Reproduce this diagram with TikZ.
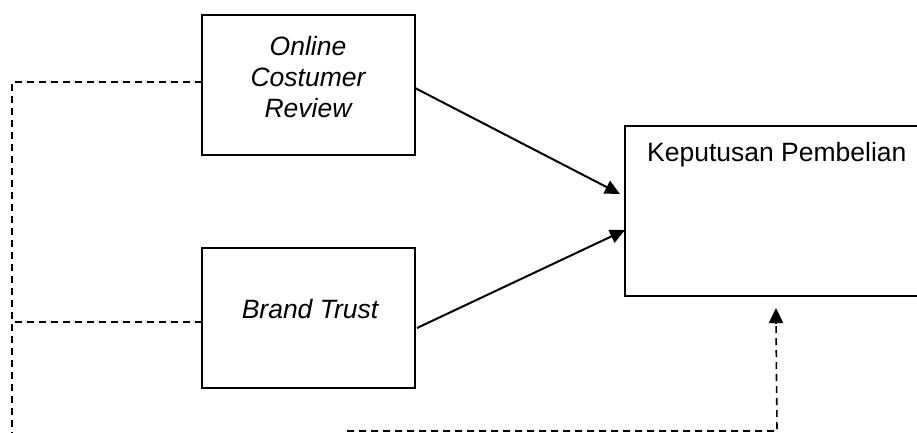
\documentclass[tikz,border=0pt]{standalone}
\usepackage{fontspec}
\setmainfont{Liberation Sans}
\usetikzlibrary{arrows.meta}
\begin{document}
\begin{tikzpicture}[x=1pt,y=-1pt,
  box/.style={draw,line width=2pt},
  lbl/.style={font=\fontsize{26.5}{31}\selectfont,inner sep=0pt,align=center},
  arr/.style={line width=2pt,-{Triangle[length=15pt,width=14pt]}},
  dsh/.style={line width=1.6pt,dash pattern=on 7pt off 5pt}]
\useasboundingbox (0,0) rectangle (917,433);
\begin{scope}
\clip (0,0) rectangle (917,433);
\draw[box] (202,15) rectangle (415,155);
\coordinate (ocrL) at (202,82);
\coordinate (ocrR) at (415,88);
\draw[box] (202,248) rectangle (415,388);
\coordinate (btL) at (202,322);
\coordinate (btR) at (417,328);
\draw[box] (625,126) rectangle (940,296);
\end{scope}
\node[lbl,font=\fontsize{26.5}{31}\selectfont\itshape] (ocr) at (308,77) {Online\\Costumer\\Review};
\node[lbl,font=\fontsize{26.5}{31}\selectfont\itshape] (bt) at (310,309) {Brand Trust};
\node[lbl,anchor=west] (kp) at (647,155) {Keputusan Pembelian};
\coordinate (kpA) at (620,194);
\coordinate (kpB) at (625,230);
\coordinate (kpC) at (776,308);
\draw[arr] (ocrR) -- (kpA);
\draw[arr] (btR) -- (kpB);
\coordinate (c1) at (12,82);
\coordinate (c2) at (12,322);
\coordinate (c3) at (12,433);
\coordinate (c4) at (347,431);
\coordinate (c5) at (777,431);
\draw[dsh] (ocrL) -- (c1) -- (c3);
\draw[dsh] (btL) -- (c2);
\draw[dsh] (c4) -- (c5) -- (776,322);
\draw[line width=2pt,-{Triangle[length=15pt,width=14pt]}] (776,324) -- (kpC);
\end{tikzpicture}
\end{document}
